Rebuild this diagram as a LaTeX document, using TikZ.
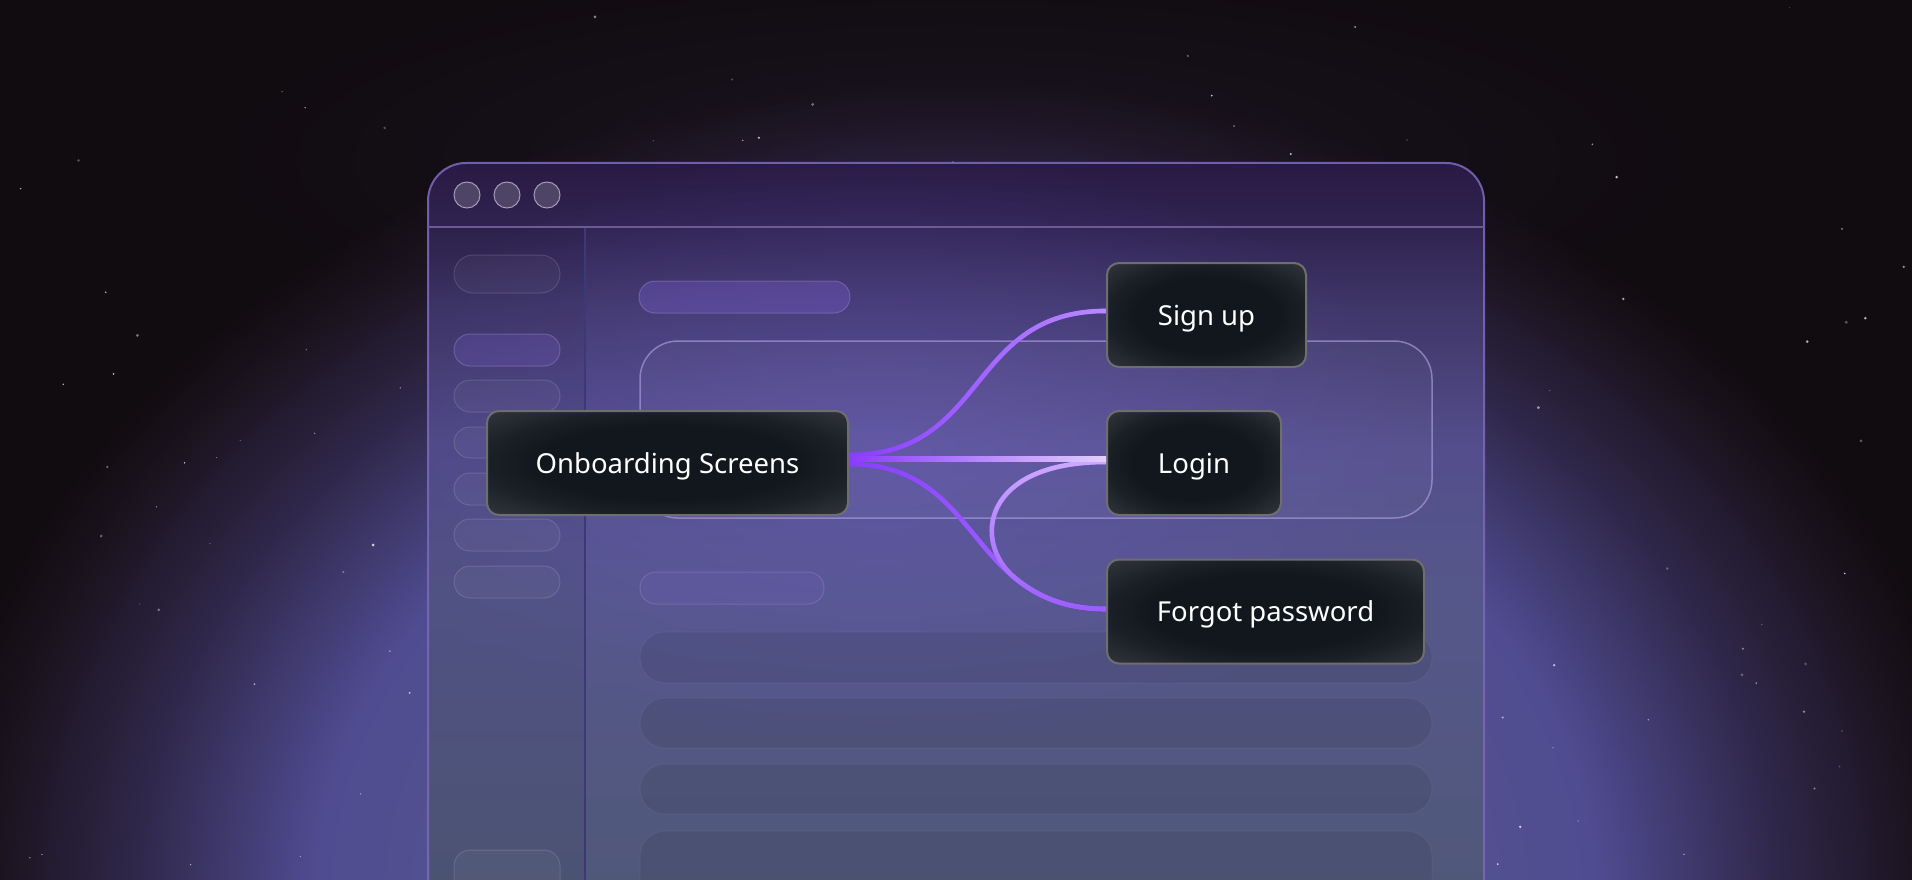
\documentclass[tikz,border=0pt]{standalone}
\usepackage{fontspec}
\setmainfont{Noto Sans}
\usetikzlibrary{fadings,calc}

\definecolor{bg}{HTML}{110C10}
\definecolor{gl0}{HTML}{535A7B}
\definecolor{gl1}{HTML}{52568C}
\definecolor{gl2}{HTML}{504C92}
\definecolor{gl3}{HTML}{2F2749}
\definecolor{gl4}{HTML}{1A121C}
\definecolor{w0}{HTML}{291A44}
\definecolor{w1}{HTML}{2F2350}
\definecolor{w2}{HTML}{3E3566}
\definecolor{w3}{HTML}{544E8C}
\definecolor{w4}{HTML}{55578A}
\definecolor{w5}{HTML}{50587A}
\definecolor{nd0}{HTML}{11171D}
\definecolor{nd1}{HTML}{1B2027}
\definecolor{nd2}{HTML}{34373D}
\definecolor{ndborder}{HTML}{6E6E70}
\definecolor{frame}{HTML}{7A66B8}
\definecolor{titleline}{HTML}{6A5A98}
\definecolor{divider}{HTML}{3D3876}
\definecolor{dotfill}{HTML}{4D4466}
\definecolor{dotedge}{HTML}{A49AB8}
\definecolor{pillpurple}{HTML}{7C62D6}
\definecolor{cardedge}{HTML}{A898D8}
\definecolor{glowpurple}{HTML}{6A5CC0}
\definecolor{cA}{HTML}{8A3CFF}
\definecolor{cSign}{HTML}{B98CFF}
\definecolor{cLogin}{HTML}{E2CFFF}
\definecolor{cForgot}{HTML}{A672FF}
\definecolor{cCtop}{HTML}{CDAAFF}
\definecolor{cC}{HTML}{9C5CFF}

\pgfdeclareradialshading{bgglow}{\pgfpoint{0bp}{0bp}}{color(0bp)=(gl0); color(9bp)=(gl1); color(15.5bp)=(gl2); color(20bp)=(gl3); color(23.5bp)=(gl4); color(25bp)=(bg); color(50bp)=(bg)}
\pgfdeclareverticalshading{winshade}{100bp}{color(0bp)=(w5); color(25bp)=(w5); color(44.5bp)=(w4); color(55bp)=(w3); color(65.4bp)=(w2); color(70.5bp)=(w1); color(75bp)=(w0); color(100bp)=(w0)}
\pgfdeclareradialshading{nodeglow}{\pgfpoint{0bp}{0bp}}{color(0bp)=(nd0); color(18bp)=(nd0); color(25bp)=(nd1); color(36bp)=(nd2); color(50bp)=(nd2)}

\tikzfading[name=fadeleft, left color=transparent!100, right color=transparent!0]
\tikzfading[name=fadedown, top color=transparent!0, bottom color=transparent!100]
\tikzfading[name=softglow, inner color=transparent!0, outer color=transparent!100]

\newcommand{\winpath}{(428,880) -- (428,201) .. controls (428,180) and (445,163) .. (466,163) -- (1446,163) .. controls (1467,163) and (1484,180) .. (1484,201) -- (1484,880)}

\begin{document}
\begin{tikzpicture}[x=1pt,y=-1pt,
  flownode/.style={draw=ndborder, line width=2pt, rounded corners=12pt, shade, shading=nodeglow,
    text=white, font=\fontsize{27.5}{33}\selectfont, minimum height=104pt, inner sep=0pt,
    text height=20pt, text depth=0pt},
  conn/.style={line width=4.6pt, line cap=butt},
  sidepill/.style={rounded corners=16pt, fill=white, fill opacity=0.035, draw=white, draw opacity=0.13, line width=1pt},
  selpill/.style={rounded corners=16pt, fill=pillpurple, fill opacity=0.22, draw=cardedge, draw opacity=0.35, line width=1pt},
  toppill/.style={rounded corners=16pt, fill=pillpurple, fill opacity=0.32, draw=cardedge, draw opacity=0.35, line width=1pt},
  midpill/.style={rounded corners=16pt, fill=pillpurple, fill opacity=0.12, draw=cardedge, draw opacity=0.3, line width=1pt},
  rowbar/.style={rounded corners=25pt, fill=black, fill opacity=0.07, draw=white, draw opacity=0.05, line width=1pt},
  cardbox/.style={rounded corners=38pt, fill=white, fill opacity=0.03, draw=cardedge, draw opacity=0.7, line width=1.5pt},
  dotbtn/.style={fill=dotfill, draw=dotedge, line width=1pt}
]
\useasboundingbox (0,0) rectangle (1912,880);
\clip (0,0) rectangle (1912,880);

% background
\fill[bg] (0,0) rectangle (1912,880);
\shade[shading=bgglow] (956,900) ellipse (1030 and 820);
\fill[glowpurple, path fading=softglow, fill opacity=0.1] (956,160) ellipse (760 and 200);

% stars
\pgfmathsetseed{12}
\foreach \i in {1,...,140}{
  \pgfmathsetmacro{\sx}{1912*rnd}
  \pgfmathsetmacro{\sy}{880*rnd}
  \pgfmathsetmacro{\so}{0.2+0.6*rnd}
  \pgfmathsetmacro{\sr}{0.6+1.0*rnd}
  \fill[white, opacity=\so] (\sx,\sy) circle[radius=\sr pt];
}

% window
\shade[shading=winshade] \winpath -- cycle;
\begin{scope}
  \clip \winpath -- cycle;
  \fill[glowpurple, path fading=softglow, fill opacity=0.45] (880,450) ellipse (560 and 300);
  \fill[black, fill opacity=0.05] (428,227) rectangle (585,880);
\end{scope}
\draw[frame, line width=2pt, opacity=0.9] \winpath;
\draw[titleline, line width=1.5pt] (428,227) -- (1484,227);
\draw[divider, line width=2pt] (585,228) -- (585,880);

% traffic lights
\foreach \x in {467,507,547}
  \draw[dotbtn] (\x,195) circle[radius=13pt];

% sidebar pills
\draw[sidepill, rounded corners=19pt] (454,255) rectangle (560,293);
\draw[selpill] (454,334) rectangle (560,366);
\draw[sidepill] (454,380) rectangle (560,412);
\draw[sidepill] (454,427) rectangle (560,458);
\draw[sidepill] (454,473) rectangle (560,505);
\draw[sidepill] (454,519) rectangle (560,551);
\draw[sidepill] (454,566) rectangle (560,598);
\draw[sidepill] (454,850) rectangle (560,910);

% main content
\draw[toppill] (639,281) rectangle (850,313);
\draw[cardbox] (640,341) rectangle (1432,518);
\draw[midpill] (640,572) rectangle (824,604);
\draw[rowbar] (640,632) rectangle (1432,683);
\draw[rowbar] (640,698) rectangle (1432,748);
\draw[rowbar] (640,764) rectangle (1432,814);
\draw[rowbar] (640,831) rectangle (1432,920);

% nodes
\node[flownode, minimum width=361pt] (onb) at (667.5,463) {Onboarding Screens};
\node[flownode, minimum width=199pt] (signup) at (1206.5,315) {Sign up};
\node[flownode, minimum width=174pt] (login) at (1194,463) {Login};
\node[flownode, minimum width=317pt] (forgot) at (1265.5,611.5) {Forgot password};

% connectors
\draw[conn, cA] ([yshift=8pt]onb.east) .. controls +(140,0) and +(-140,0) .. ([yshift=4pt]signup.west);
\draw[conn, cSign, path fading=fadeleft] ([yshift=8pt]onb.east) .. controls +(140,0) and +(-140,0) .. ([yshift=4pt]signup.west);

\draw[conn, cA] ([yshift=-1pt]onb.east) .. controls +(135,0) and +(-140,0) .. ([yshift=2.5pt]forgot.west);
\draw[conn, cForgot, path fading=fadeleft] ([yshift=-1pt]onb.east) .. controls +(135,0) and +(-140,0) .. ([yshift=2.5pt]forgot.west);

\coordinate (merge) at (1014.8,577.7);
\draw[conn, cC] ([yshift=1pt]login.west) .. controls +(-125,0) and (972.3,542.8) .. (merge) .. controls (1037,596) and (1065,609) .. ([yshift=2.5pt]forgot.west);
\draw[conn, cCtop, path fading=fadedown] ([yshift=1pt]login.west) .. controls +(-125,0) and (972.3,542.8) .. (merge) .. controls (1037,596) and (1065,609) .. ([yshift=2.5pt]forgot.west);

\shade[left color=cA, right color=cLogin] ([yshift=6.8pt]onb.east) rectangle ([yshift=1.4pt]login.west);
\end{tikzpicture}
\end{document}
